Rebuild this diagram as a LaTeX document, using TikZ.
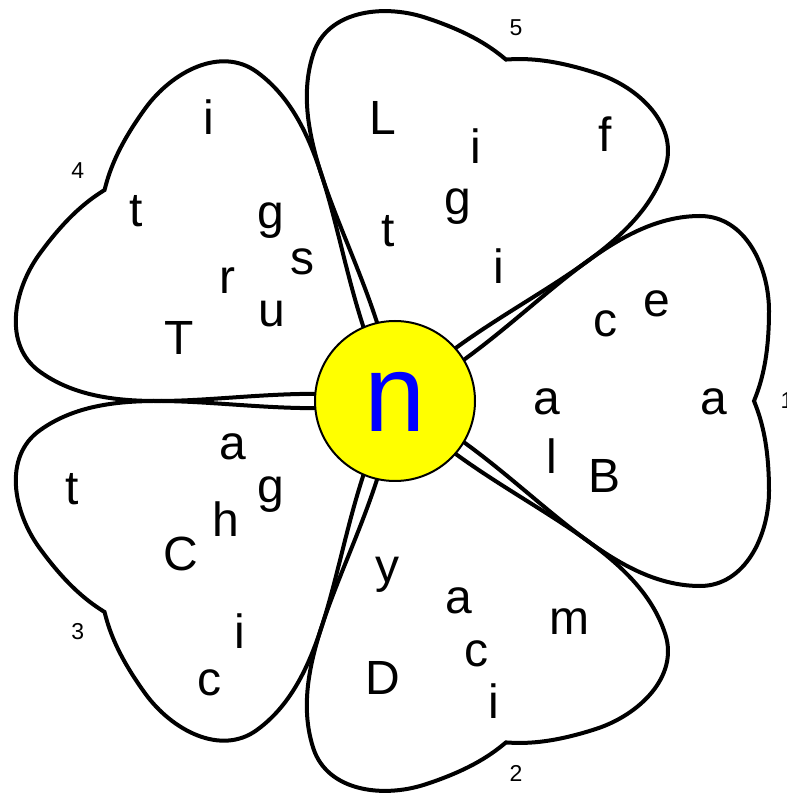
\documentclass[tikz,border=0pt]{standalone}
\usepackage{fontspec}
\setmainfont{Liberation Sans}
\definecolor{hubyellow}{RGB}{255,255,0}
\definecolor{hubblue}{RGB}{0,0,255}
\usetikzlibrary{positioning}

\tikzset{
  petal/.style={draw=black,line width=4pt},
  hub/.style={circle,draw=black,line width=2pt,fill=hubyellow,
              minimum size=160pt,inner sep=0pt,text=hubblue,
              font=\fontsize{110}{110}\selectfont,text height=62pt},
  letter/.style={anchor=base,inner sep=0pt,font=\fontsize{48}{48}\selectfont},
  numlabel/.style={inner sep=0pt,font=\fontsize{23}{23}\selectfont}
}

\begin{document}
\begin{tikzpicture}[x=1pt,y=1pt]
  \useasboundingbox (-395,-393) rectangle (391,401);
  %% Petals with their numbers
  \foreach \a/\n in {0/1,-72/2,-144/3,144/4,72/5} {
    \draw[petal,rotate=\a] (0,0)
      .. controls (120,55) and (200,185) .. (305,185)
      .. controls (350,185) and (374,135) .. (374,90)
      .. controls (374,40) and (365,15) .. (359,0)
      .. controls (365,-15) and (374,-40) .. (374,-90)
      .. controls (374,-135) and (350,-185) .. (305,-185)
      .. controls (200,-185) and (120,-55) .. cycle;
    \node[numlabel] (num\n) at (\a:392) {\n};
  }
  %% Centre
  \node[hub] (hub) at (0,0) {n};
  %% Petal 1: Balance
  \node[letter] (b1) at (210,-91.7) {B};
  \node[letter] (b2) at (151.7,-14) {a};
  \node[letter] (b3) at (157.2,-72.3) {l};
  \node[letter] (b4) at (319.3,-14) {a};
  \node[letter] (b5) at (210,64.3) {c};
  \node[letter] (b6) at (262.2,84.3) {e};
  %% Petal 2: Dynamic
  \node[letter] (d1) at (-12,-293) {D};
  \node[letter] (d2) at (-7.3,-181.3) {y};
  \node[letter] (d3) at (63.7,-212.3) {a};
  \node[letter] (d4) at (174.2,-233) {m};
  \node[letter] (d5) at (98.7,-317.3) {i};
  \node[letter] (d6) at (81.5,-265) {c};
  %% Petal 3: Catching
  \node[letter] (c1) at (-213.8,-169) {C};
  \node[letter] (c2) at (-162.3,-59) {a};
  \node[letter] (c3) at (-322.8,-104) {t};
  \node[letter] (c4) at (-185.2,-294) {c};
  \node[letter] (c5) at (-168.8,-135.7) {h};
  \node[letter] (c6) at (-155,-247.3) {i};
  \node[letter] (c7) at (-124.1,-101.3) {g};
  %% Petal 4: Trusting
  \node[letter] (t1) at (-215.8,46) {T};
  \node[letter] (t2) at (-167.2,107.7) {r};
  \node[letter] (t3) at (-123.2,74.3) {u};
  \node[letter] (t4) at (-92.8,126) {s};
  \node[letter] (t5) at (-258.7,174.3) {t};
  \node[letter] (t6) at (-186.3,266) {i};
  \node[letter] (t7) at (-124.5,172.7) {g};
  %% Petal 5: Lifting
  \node[letter] (l1) at (-11.7,266) {L};
  \node[letter] (l2) at (81.3,237.7) {i};
  \node[letter] (l3) at (209.7,249.3) {f};
  \node[letter] (l4) at (-7.3,154.3) {t};
  \node[letter] (l5) at (104.3,117.7) {i};
  \node[letter] (l6) at (63.3,186) {g};
\end{tikzpicture}
\end{document}
